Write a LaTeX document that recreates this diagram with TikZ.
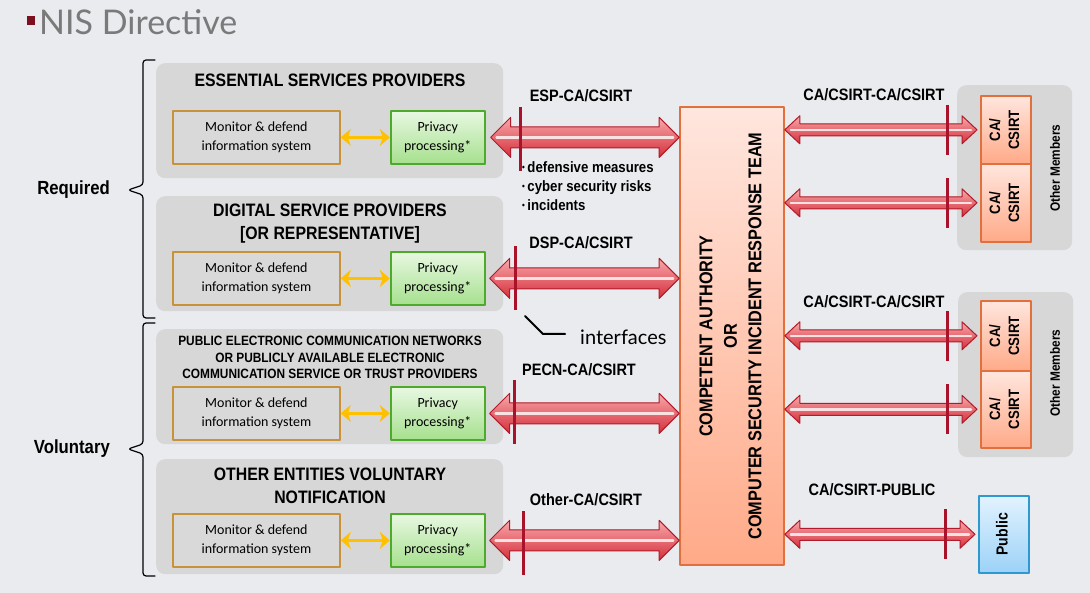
\documentclass[tikz,border=0pt]{standalone}
\usepackage{fontspec}
\setmainfont{Carlito}
\newfontfamily\headfont[FakeStretch=0.88]{Liberation Sans}
\newfontfamily\thinfont{Lato}
\usetikzlibrary{arrows.meta, calc, positioning, shadows}
\definecolor{bgtone}{HTML}{E9EBEE}
\definecolor{grouptone}{HTML}{D7D7D7}
\definecolor{montone}{HTML}{D9D9D9}
\definecolor{monborder}{HTML}{C8923A}
\definecolor{privtop}{HTML}{E8F8E2}
\definecolor{privbottom}{HTML}{A6E08E}
\definecolor{privborder}{HTML}{4DAA2A}
\definecolor{catop}{HTML}{FFE6DE}
\definecolor{cabottom}{HTML}{FFAA88}
\definecolor{caborder}{HTML}{E2703C}
\definecolor{pubtop}{HTML}{E2F3FF}
\definecolor{pubbottom}{HTML}{9CD2F7}
\definecolor{pubborder}{HTML}{2E98D0}
\definecolor{arrowtop}{HTML}{F7A9AB}
\definecolor{arrowbottom}{HTML}{D52E3A}
\definecolor{arrowedge}{HTML}{B01A2A}
\definecolor{bartone}{HTML}{A8132B}
\definecolor{yellowarrow}{HTML}{FFC000}
\definecolor{titlered}{HTML}{7D1020}
\definecolor{titlegray}{HTML}{7A7A7A}

% fat double arrow: start, end, shaft half, head half, head length
\newcommand{\redarrow}[5]{%
	\coordinate (ra1) at (#1);
	\coordinate (ra2) at (#2);
	\draw[fatarrow] (ra1) -- ++(#5,-#4) -- ++(0,#4-#3)
	-- ($(ra2)+(-#5,-#3)$) -- ++(0,#3-#4) -- (ra2)
	-- ++(-#5,#4) -- ++(0,#3-#4) -- ($(ra1)+(#5,#3)$)
	-- ++(0,#4-#3) -- cycle;
	\draw[fatstripe] ($(ra1)+(6,0)$) -- ($(ra2)+(-6,0)$);
}
\newcommand{\upright}[1]{\rotatebox{90}{\begin{tabular}{@{}c@{}}#1\end{tabular}}}
\newcommand{\dotitem}{{\fontsize{9}{9}\selectfont\raisebox{2pt}{\textbullet}}\,}

\begin{document}
\begin{tikzpicture}[x=1pt, y=-1pt, >=Stealth, line cap=round, line join=round,
	grpbox/.style={fill=grouptone, rounded corners=9pt, anchor=north west, inner sep=0pt,
		minimum width=347pt, minimum height=115pt},
	grptitle/.style={font=\headfont\bfseries\fontsize{18}{23}\selectfont, align=center, inner sep=0pt},
	monbox/.style={draw=monborder, fill=montone, line width=1.8pt, anchor=north west,
		minimum width=167pt, minimum height=53pt, align=center, inner sep=0pt,
		font=\fontsize{14}{19.5}\selectfont,
		drop shadow={opacity=0.2, shadow xshift=1pt, shadow yshift=-1.5pt}},
	privbox/.style={draw=privborder, top color=privtop, bottom color=privbottom, line width=1.8pt,
		minimum width=94pt, minimum height=53pt, align=center, inner sep=0pt,
		font=\fontsize{14}{19.5}\selectfont,
		drop shadow={opacity=0.2, shadow xshift=1pt, shadow yshift=-1.5pt}},
	yellowlink/.style={{Stealth[length=10pt,width=17pt,inset=3pt]}-{Stealth[length=10pt,width=17pt,inset=3pt]},
		draw=yellowarrow, line width=3.5pt},
	fatarrow/.style={top color=arrowtop, bottom color=arrowbottom, draw=arrowedge, line width=1pt},
	fatstripe/.style={draw=white, opacity=0.8, line width=2.5pt},
	ifbar/.style={draw=bartone, line width=3pt, line cap=butt},
	linklabel/.style={font=\headfont\bfseries\fontsize{16.5}{18}\selectfont, inner sep=0pt},
	hubbox/.style={draw=caborder, top color=catop, bottom color=cabottom, line width=1.6pt,
		minimum width=104pt, minimum height=458pt, inner sep=0pt,
		font=\headfont\bfseries\fontsize{18.5}{24.5}\selectfont},
	membergrp/.style={fill=grouptone, rounded corners=9pt, anchor=north west,
		minimum width=115pt, minimum height=165pt, inner sep=0pt},
	cabox/.style={draw=caborder, top color=catop, bottom color=cabottom, line width=1.6pt,
		minimum width=50pt, inner sep=0pt, font=\headfont\bfseries\fontsize{15}{19}\selectfont,
		drop shadow={opacity=0.2, shadow xshift=1pt, shadow yshift=-1.5pt}},
	pubbox/.style={draw=pubborder, top color=pubtop, bottom color=pubbottom, line width=1.6pt,
		minimum width=50pt, minimum height=77pt, inner sep=0pt,
		font=\headfont\bfseries\fontsize{16}{19}\selectfont,
		drop shadow={opacity=0.2, shadow xshift=1pt, shadow yshift=-1.5pt}},
	sidelabel/.style={font=\headfont\bfseries\fontsize{19}{22}\selectfont, anchor=east, inner sep=0pt},
	bracket/.style={draw=black, line width=1.2pt, rounded corners=3pt}]

% background and title
\fill[bgtone] (0,0) rectangle (1090,593);
\useasboundingbox (0,0) rectangle (1090,593);
\fill[titlered] (27,16) rectangle (35,25);
\node[anchor=west, inner sep=0pt, text=titlegray, font=\thinfont\fontsize{34}{38}\selectfont]
	(title) at (39,22) {NIS Directive};

%========================
% Left: notifying entities
%========================
\node[grpbox] (espbox) at (156,63) {};
\node[grptitle] (esptitle) at (330,80) {ESSENTIAL SERVICES PROVIDERS};
\node[monbox] (espmon) at (172,110) {Monitor \& defend\\information system};
\node[privbox, right=49pt of espmon] (esppriv) {Privacy\\processing*};

\node[grpbox] (dspbox) at (156,196) {};
\node[grptitle] (dsptitle) at (330,223.5) {DIGITAL SERVICE PROVIDERS\\{}[OR REPRESENTATIVE]};
\node[monbox] (dspmon) at (172,251) {Monitor \& defend\\information system};
\node[privbox, right=49pt of dspmon] (dsppriv) {Privacy\\processing*};

\node[grpbox, minimum height=115pt] (pecnbox) at (156,329) {};
\node[grptitle, font=\headfont\bfseries\fontsize{13.5}{16.5}\selectfont] (pecntitle) at (330,357.5)
	{PUBLIC ELECTRONIC COMMUNICATION NETWORKS\\OR PUBLICLY AVAILABLE ELECTRONIC\\COMMUNICATION SERVICE OR TRUST PROVIDERS};
\node[monbox] (pecnmon) at (172,386) {Monitor \& defend\\information system};
\node[privbox, right=49pt of pecnmon] (pecnpriv) {Privacy\\processing*};

\node[grpbox] (othbox) at (156,459) {};
\node[grptitle] (othtitle) at (330,486) {OTHER ENTITIES VOLUNTARY\\NOTIFICATION};
\node[monbox] (othmon) at (172,513) {Monitor \& defend\\information system};
\node[privbox, right=49pt of othmon] (othpriv) {Privacy\\processing*};

% yellow links
\foreach \g in {esp, dsp, pecn, oth}
	\draw[yellowlink] (\g mon.east) -- (\g priv.west);

% braces
\node[sidelabel] (required) at (110,190) {Required};
\node[sidelabel] (voluntary) at (110,449) {Voluntary};
\coordinate (reqtop) at (155,60);
\coordinate (reqbot) at (155,318);
\coordinate (voltop) at (155,323);
\coordinate (volbot) at (155,576);
\draw[bracket] (reqtop) -- (143,60) -- (143,185) -- (128,190) -- (143,195) -- (143,318) -- (reqbot);
\draw[bracket] (voltop) -- (143,323) -- (143,444) -- (128,449) -- (143,454) -- (143,576) -- (volbot);

%========================
% Middle: competent authority
%========================
\node[hubbox] (ca) at (732,336) {\upright{COMPETENT AUTHORITY\\OR\\COMPUTER SECURITY INCIDENT RESPONSE TEAM}};

% notification arrows
\redarrow{[xshift=5pt]esppriv.east}{ca.west |- esppriv.east}{10.5}{20}{20}
\redarrow{[xshift=4pt]dsppriv.east}{ca.west |- dsppriv.east}{10.5}{20}{20}
\redarrow{[xshift=4pt]pecnpriv.east}{ca.west |- pecnpriv.east}{10.5}{20}{20}
\redarrow{[xshift=4pt]othpriv.east}{ca.west |- othpriv.east}{10.5}{20}{20}
\draw[ifbar] ($(esppriv.east)+(35,-30)$) -- ++(0,64);
\draw[ifbar] ($(dsppriv.east)+(30,-32)$) -- ++(0,64);
\draw[ifbar] ($(pecnpriv.east)+(29,-33)$) -- ++(0,64);
\draw[ifbar] ($(othpriv.east)+(38,-29)$) -- ++(0,64);

\node[linklabel] (esplink) at (581,96) {ESP-CA/CSIRT};
\node[linklabel] (dsplink) at (581,243) {DSP-CA/CSIRT};
\node[linklabel] (pecnlink) at (579,370) {PECN-CA/CSIRT};
\node[linklabel] (othlink) at (586,500) {Other-CA/CSIRT};

\node[anchor=north west, align=left, inner sep=0pt,
	font=\headfont\bfseries\fontsize{15}{19}\selectfont] (topics) at (522,161)
	{\dotitem defensive measures\\\dotitem cyber security risks\\\dotitem incidents};

% interfaces pointer
\node[anchor=west, inner sep=0pt, font=\thinfont\fontsize{20}{24}\selectfont] (interfaces) at (580,337) {interfaces};
\coordinate (iftip) at (525,316);
\draw[line width=2pt] (iftip) -- ++(18,18) -- ([xshift=-15pt]interfaces.west |- 0,334);

%========================
% Right: other members and public
%========================
\node[membergrp] (members1) at (957,85) {};
\node[membergrp] (members2) at (958,292) {};
\node[cabox, minimum height=68pt, anchor=north west] (cs1) at (980,95) {\upright{CA/\\CSIRT}};
\node[cabox, minimum height=78pt, anchor=north west] (cs2) at (980,163) {\upright{CA/\\CSIRT}};
\node[cabox, minimum height=70pt, anchor=north west] (cs3) at (980,300) {\upright{CA/\\CSIRT}};
\node[cabox, minimum height=77pt, anchor=north west] (cs4) at (980,370) {\upright{CA/\\CSIRT}};
\node[pubbox, anchor=north west] (pub) at (978,495) {\upright{Public}};
\node[rotate=90, inner sep=0pt, font=\headfont\bfseries\fontsize{13.5}{16}\selectfont] (om1) at (1055,168) {Other Members};
\node[rotate=90, inner sep=0pt, font=\headfont\bfseries\fontsize{13.5}{16}\selectfont] (om2) at (1055,373) {Other Members};

% exchange arrows
\foreach \b in {cs1, cs2, cs3, cs4, pub} {
	\redarrow{ca.east |- \b.west}{[xshift=-3pt]\b.west}{6}{14}{15}
	\draw[ifbar] ($(\b.west)+(-33,-25)$) -- ++(0,50);
}

\node[linklabel] (cslink1) at (874,95) {CA/CSIRT-CA/CSIRT};
\node[linklabel] (cslink2) at (874,302) {CA/CSIRT-CA/CSIRT};
\node[linklabel] (publink) at (872,490) {CA/CSIRT-PUBLIC};

\end{tikzpicture}
\end{document}
